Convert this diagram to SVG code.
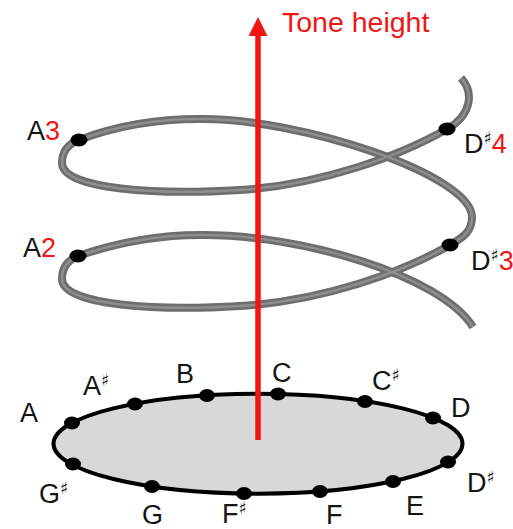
<svg xmlns="http://www.w3.org/2000/svg" width="513" height="529" viewBox="0 0 513 529">
<defs>
<style>
.lbl{font-family:"Liberation Sans","DejaVu Sans",Arial,sans-serif;font-size:27px;fill:#151515}
.sh{font-family:"DejaVu Sans","Liberation Sans",sans-serif;font-size:17px}
.red{fill:#f01616}
.dot{fill:#000}
.tube{fill:none;stroke:#6e6e6e;stroke-width:8;stroke-linecap:butt}
.tubehl{fill:none;stroke:#8e8e8e;stroke-width:2.5;stroke-linecap:butt}
</style>
<path id="helixPath" d="M 461 78 C 474 92, 472 115, 447 129 C 400 156, 320 185, 240 190 C 160 195, 62 190, 62 163 C 62 152, 68 144, 79 140 C 110 128, 150 119, 200 119 C 300 118, 472 175, 472 217 C 472 231, 464 237, 450 245 C 403 272, 323 301, 240 306 C 160 311, 62 306, 62 279 C 62 268, 68 260, 78 256 C 110 245, 150 235, 200 235 C 300 234, 440 275, 473 327"/>
</defs>
<rect width="513" height="529" fill="#fff"/>

<g id="helix">
<use href="#helixPath" class="tube"/>
<use href="#helixPath" class="tubehl"/>
<ellipse cx="79" cy="140" rx="8.5" ry="6.5" class="dot"/>
<ellipse cx="447" cy="129" rx="8.5" ry="6.5" class="dot"/>
<ellipse cx="78" cy="256" rx="8.5" ry="6.5" class="dot"/>
<ellipse cx="450" cy="245" rx="8.5" ry="6.5" class="dot"/>
</g>

<g id="pitch-circle">
<ellipse cx="258" cy="443.7" rx="204.5" ry="50" fill="#d8d8d8" stroke="#000" stroke-width="4"/>
</g>

<g id="connectors">
<line x1="258" y1="440" x2="258" y2="32" stroke="#f01616" stroke-width="5.5"/>
<polygon points="258,17 248.5,36 267.5,36" fill="#f01616"/>
</g>

<g id="axis-label"><text x="282" y="32" class="lbl red" style="font-size:28.5px">Tone height</text></g>

<g id="notes">
<g id="n-A"><ellipse cx="72" cy="423" rx="8" ry="6.5" class="dot"/><text x="20" y="422" class="lbl">A</text></g>
<g id="n-As"><ellipse cx="135" cy="404" rx="8" ry="6.5" class="dot"/><text x="83" y="395" class="lbl">A<tspan class="sh" dy="-9">♯</tspan></text></g>
<g id="n-B"><ellipse cx="207" cy="395.5" rx="8" ry="6.5" class="dot"/><text x="176" y="383" class="lbl">B</text></g>
<g id="n-C"><ellipse cx="278" cy="394" rx="8" ry="6.5" class="dot"/><text x="272" y="382" class="lbl">C</text></g>
<g id="n-Cs"><ellipse cx="365" cy="401.5" rx="8" ry="6.5" class="dot"/><text x="372" y="390" class="lbl">C<tspan class="sh" dy="-9">♯</tspan></text></g>
<g id="n-D"><ellipse cx="433" cy="418" rx="8" ry="6.5" class="dot"/><text x="451" y="417" class="lbl">D</text></g>
<g id="n-Ds"><ellipse cx="448" cy="462" rx="8" ry="6.5" class="dot"/><text x="467" y="492" class="lbl">D<tspan class="sh" dy="-9">♯</tspan></text></g>
<g id="n-E"><ellipse cx="393" cy="481.5" rx="8" ry="6.5" class="dot"/><text x="406" y="515" class="lbl">E</text></g>
<g id="n-F"><ellipse cx="320" cy="491.5" rx="8" ry="6.5" class="dot"/><text x="326" y="524" class="lbl">F</text></g>
<g id="n-Fs"><ellipse cx="244" cy="493.5" rx="8" ry="6.5" class="dot"/><text x="222" y="523" class="lbl">F<tspan class="sh" dy="-9">♯</tspan></text></g>
<g id="n-G"><ellipse cx="152" cy="486.5" rx="8" ry="6.5" class="dot"/><text x="142" y="524" class="lbl">G</text></g>
<g id="n-Gs"><ellipse cx="73" cy="464" rx="8" ry="6.5" class="dot"/><text x="39" y="503" class="lbl">G<tspan class="sh" dy="-9">♯</tspan></text></g>
</g>

<g id="helix-labels">
<text x="27" y="140" class="lbl">A<tspan class="red">3</tspan></text>
<text x="23" y="257" class="lbl">A<tspan class="red">2</tspan></text>
<text x="464" y="153" class="lbl">D<tspan class="sh" dy="-9">♯</tspan><tspan class="red" dy="9">4</tspan></text>
<text x="471" y="270" class="lbl">D<tspan class="sh" dy="-9">♯</tspan><tspan class="red" dy="9">3</tspan></text>
</g>
</svg>
